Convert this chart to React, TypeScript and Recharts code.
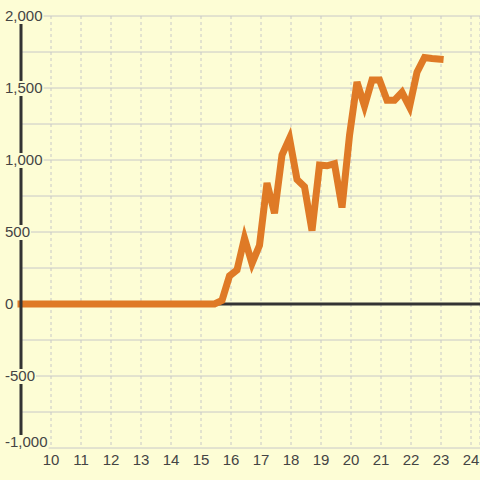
import React from "react";
import {
  LineChart,
  Line,
  XAxis,
  YAxis,
  CartesianGrid,
  ReferenceLine,
} from "recharts";

const BG = "#FDFDD5";
const ORANGE = "#DF7A26";
const DARK = "#333333";
const GRID = "#C8C8C8";
const FONT = "'Liberation Sans', Arial, sans-serif";

// x positions of the samples
const xValues = [
  9, 15.45, 15.7, 15.95, 16.2, 16.45, 16.7, 16.95, 17.2, 17.45, 17.7, 17.95,
  18.2, 18.45, 18.7, 18.95, 19.2, 19.45, 19.7, 19.95, 20.2, 20.45, 20.7, 20.95,
  21.2, 21.45, 21.7, 21.95, 22.2, 22.45, 22.7, 22.97,
];
// series values
const yValues = [
  0, 0, 25, 195, 236, 458, 282, 408, 840, 630, 1035, 1150, 865, 815, 510, 965,
  960, 975, 670, 1170, 1542, 1375, 1556, 1556, 1415, 1415, 1470, 1368, 1610,
  1712, 1705, 1700,
];

const xTicks = [10, 11, 12, 13, 14, 15, 16, 17, 18, 19, 20, 21, 22, 23, 24];
const yTicks = [
  -1000, -750, -500, -250, 0, 250, 500, 750, 1000, 1250, 1500, 1750, 2000,
];

const data = xValues.map((x, i) => ({ x, y: yValues[i] }));

const fmt = (v: number) => v.toLocaleString("en-US");

// rough width of a label in 15px sans
const labelWidth = (s: string) => {
  let w = 0;
  for (const c of s) w += c === "," ? 4.2 : c === "-" ? 5 : 8.34;
  return w;
};

const YTick = (props: any) => {
  const { y, payload } = props;
  const v = payload.value;
  if (v % 500 !== 0) return <g />;
  const s = fmt(v);
  // bottom label is nudged up so it stays inside the plot
  const cy = v === -1000 ? y - 6 : y;
  return (
    <g>
      <rect x={4} y={cy - 7} width={labelWidth(s) + 2} height={15} fill={BG} />
      <text
        x={5}
        y={cy + 5}
        fontSize={15}
        fontFamily={FONT}
        fill="#444"
        textAnchor="start"
      >
        {s}
      </text>
    </g>
  );
};

const XTick = (props: any) => {
  const { x, payload } = props;
  return (
    <text
      x={x}
      y={465}
      fontSize={15}
      fontFamily={FONT}
      fill="#444"
      textAnchor="middle"
    >
      {payload.value}
    </text>
  );
};

export default function App() {
  return (
    <div
      style={{
        position: "absolute",
        left: 0,
        top: 0,
        width: 480,
        height: 480,
        background: BG,
      }}
    >
      <LineChart
        width={480}
        height={480}
        data={data}
        margin={{ top: 16, right: 0, bottom: 0, left: 0 }}
      >
        <CartesianGrid horizontal={true} vertical={false} stroke={GRID} />
        <CartesianGrid
          horizontal={false}
          vertical={true}
          stroke={GRID}
          strokeDasharray="3 3"
        />
        <XAxis
          dataKey="x"
          type="number"
          domain={[9, 24.3]}
          ticks={xTicks}
          axisLine={false}
          tickLine={false}
          height={32}
          tick={<XTick />}
          interval={0}
        />
        <ReferenceLine y={0} stroke={DARK} strokeWidth={3} />
        <Line
          dataKey="y"
          stroke={ORANGE}
          strokeWidth={7}
          strokeLinecap="square"
          dot={false}
          activeDot={false}
          isAnimationActive={false}
        />
        <YAxis
          type="number"
          domain={[-1000, 2000]}
          ticks={yTicks}
          width={21}
          axisLine={{ stroke: DARK, strokeWidth: 3 }}
          tickLine={false}
          tick={<YTick />}
          interval={0}
        />
      </LineChart>
    </div>
  );
}
